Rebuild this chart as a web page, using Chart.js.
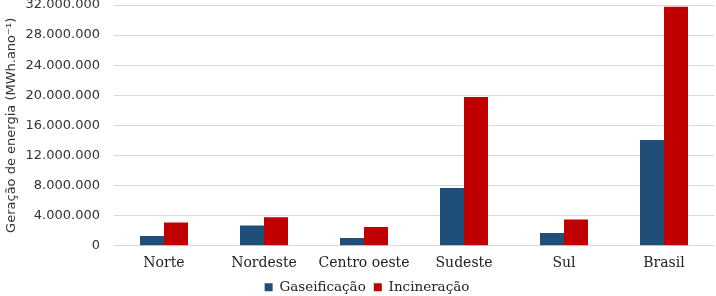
<!DOCTYPE html>
<html>
<head>
<meta charset="utf-8">
<script src="https://cdn.jsdelivr.net/npm/chart.js@4"></script>
<style>
  html, body { margin: 0; padding: 0; background: #fff; }
  #wrap { width: 716px; height: 296px; }
</style>
</head>
<body>
<div id="wrap"><canvas id="chart"></canvas></div>
<script>
const regions = ['Norte', 'Nordeste', 'Centro oeste', 'Sudeste', 'Sul', 'Brasil'];
const gaseificacao = [1300000, 2680000, 1030000, 7670000, 1700000, 14060000];
const incineracao = [3080000, 3790000, 2500000, 19770000, 3480000, 31770000];

// 32.000.000 style
function fmt(v) {
  return String(v).replace(/\B(?=(\d{3})+(?!\d))/g, '.');
}

// legend in the original sits a bit right of the canvas centre
const legendShift = {
  id: 'legendShift',
  afterLayout(chart) {
    chart.legend.left += 10;
    chart.legend.right += 10;
  }
};

const ctx = document.getElementById('chart').getContext('2d');
new Chart(ctx, {
  type: 'bar',
  data: {
    labels: regions,
    datasets: [
      { label: 'Gaseificação', data: gaseificacao, backgroundColor: '#1f4e79' },
      { label: 'Incineração', data: incineracao, backgroundColor: '#c00000' }
    ]
  },
  plugins: [legendShift],
  options: {
    responsive: true,
    maintainAspectRatio: false,
    animation: false,
    layout: { padding: { top: 0, right: 2, left: 0, bottom: -8 } },
    plugins: {
      legend: {
        position: 'bottom',
        labels: {
          boxWidth: 8, boxHeight: 8, padding: 8,
          color: '#222',
          font: { family: 'DejaVu Serif', size: 13.5 }
        }
      },
      tooltip: { enabled: false }
    },
    datasets: { bar: { barPercentage: 1, categoryPercentage: 0.48 } },
    scales: {
      x: {
        grid: { display: false },
        border: { display: false },
        ticks: {
          color: '#222', font: { family: 'DejaVu Serif', size: 14 }, padding: 1,
          maxRotation: 0, minRotation: 0, autoSkip: false
        }
      },
      y: {
        min: 0, max: 32000000,
        afterFit: s => {
          // keep the plot edge and top gridline where the reference has them
          s.width = 114;
          s.paddingTop = 5;
          s.paddingBottom = 0;
        },
        ticks: {
          stepSize: 4000000,
          color: '#333',
          font: { family: 'DejaVu Sans', size: 13 },
          padding: 14,
          callback: v => fmt(v)
        },
        grid: { color: '#d9d9d9', lineWidth: 1, drawTicks: false },
        border: { display: false },
        title: {
          display: true,
          text: 'Geração de energia (MWh.ano⁻¹)',
          color: '#333',
          font: { family: 'DejaVu Sans', size: 13 },
          padding: { top: 4, bottom: 4 }
        }
      }
    }
  }
});
</script>
</body>
</html>
